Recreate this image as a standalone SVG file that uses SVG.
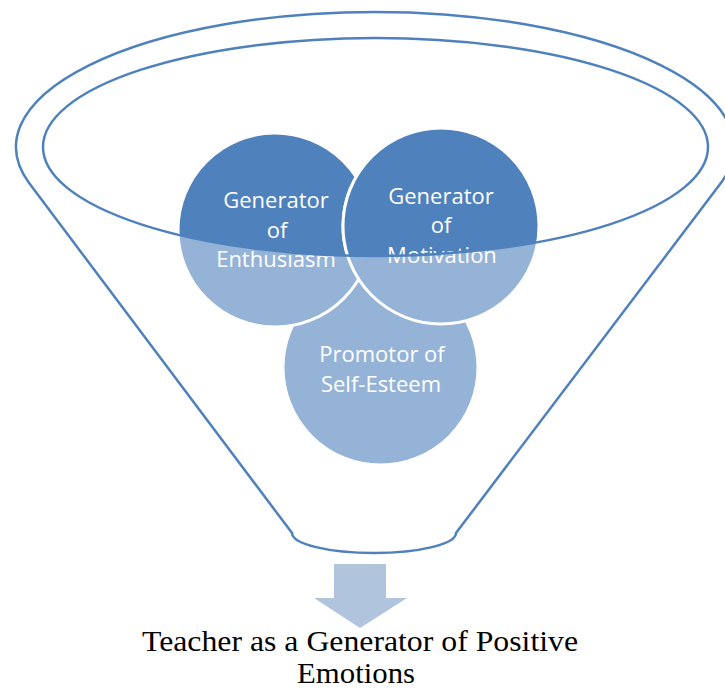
<svg xmlns="http://www.w3.org/2000/svg" width="725" height="690" viewBox="0 0 725 690">
<style>
.outline{fill:none;stroke:#4F81BD;stroke-width:2.5}
.light{fill:#95B3D7;stroke:#fff;stroke-width:3}
.dark{fill:#4F81BD;stroke:#fff;stroke-width:3}
.lbl{font-family:"Open Sans","Liberation Sans",sans-serif;font-size:22px;fill:#fff;text-anchor:middle}
.cap{font-family:"Liberation Serif","Times New Roman",serif;font-size:29px;fill:#000;text-anchor:middle}
</style>
<defs>
<clipPath id="inner"><ellipse cx="375.5" cy="147" rx="332.5" ry="109"/></clipPath>
</defs>
<rect width="725" height="690" fill="#fff"/>
<g id="funnel">
<path class="outline" d="M29.3,183.3 A359,135 0 1 1 720.7,183.3 L456,533 A82,20 0 0 1 292,533 Z"/>
</g>
<g id="promotor">
<circle class="light" cx="380.5" cy="367.5" r="97.5"/>
<text class="lbl" x="382" y="362">Promotor of</text>
<text class="lbl" x="381" y="392">Self-Esteem</text>
</g>
<g id="enthusiasm">
<circle class="light" cx="275" cy="230" r="97"/>
<circle class="dark" cx="275" cy="230" r="97" clip-path="url(#inner)"/>
<text class="lbl" x="276" y="208">Generator</text>
<text class="lbl" x="277" y="238">of</text>
<text class="lbl" x="276" y="267">Enthusiasm</text>
</g>
<g id="motivation">
<circle class="light" cx="441" cy="226" r="98"/>
<circle class="dark" cx="441" cy="226" r="98" clip-path="url(#inner)"/>
<text class="lbl" x="441" y="204">Generator</text>
<text class="lbl" x="441" y="233">of</text>
<text class="lbl" x="442" y="263">Motivation</text>
</g>
<g id="rim">
<ellipse class="outline" cx="375.5" cy="147" rx="332.5" ry="109"/>
</g>
<g id="connectors">
<path d="M334,564 H386 V598 H407 L360,628 L314,598 H334 Z" fill="#B0C4DE"/>
</g>
<g id="caption">
<text class="cap" x="360" y="651" textLength="436" lengthAdjust="spacingAndGlyphs">Teacher as a Generator of Positive</text>
<text class="cap" x="356" y="683" textLength="118" lengthAdjust="spacingAndGlyphs">Emotions</text>
</g>
</svg>
